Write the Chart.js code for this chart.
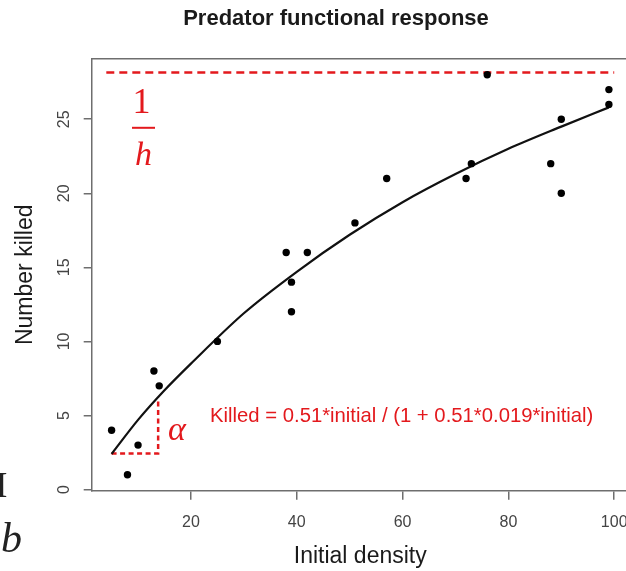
<!DOCTYPE html>
<html><head><meta charset="utf-8">
<script src="https://cdn.jsdelivr.net/npm/chart.js@4.4.1/dist/chart.umd.min.js"></script>
<style>
html,body{margin:0;padding:0;overflow:hidden;background:#fff;width:626px;height:571px}
#wrap{position:absolute;left:0;top:0;width:660px;height:571px}
</style>
</head><body><div id="wrap"><canvas id="c" width="660" height="571"></canvas></div>
<script>
// ---- data ----
const initialDensity = [5, 8, 10, 13, 14, 25, 38, 39, 39, 42, 51, 57, 72, 73, 76, 88, 90, 90, 99, 99];
const numberKilled   = [4, 1, 3, 8, 7, 10, 16, 14, 12, 16, 18, 21, 21, 22, 28, 22, 20, 25, 27, 26];
const fitDensity = [5, 10, 15, 20, 30, 40, 50, 60, 70, 80, 90, 99];
const fitKilled  = [2.4, 4.7, 6.7, 8.5, 11.9, 14.7, 17.2, 19.4, 21.3, 23.0, 24.5, 25.8];
const asymptoteDensity = [4, 100];
const asymptoteKilled  = [28.15, 28.15];
const slopeDensity = [5, 13.8, 13.8];
const slopeKilled  = [2.44, 2.44, 6.2];
const xTicks = [20, 40, 60, 80, 100];
const yTicks = [0, 5, 10, 15, 20, 25];
const xRange = [1.24, 102.76];
const yRange = [-0.08, 29.08];
const titleText = 'Predator functional response';
const xTitle = 'Initial density';
const yTitle = 'Number killed';
const equationText = 'Killed = 0.51*initial / (1 + 0.51*0.019*initial)';

const toPts = (xs, ys) => xs.map((x, i) => ({x: x, y: ys[i]}));
const RED = '#e3191d';
const AXIS = '#6e6e6e';
const SANS = "'Liberation Sans', Arial, sans-serif";
const SERIF = "'Liberation Serif', 'Times New Roman', serif";

Chart.defaults.font.family = SANS;

const annotate = {
  id: 'annotate',
  afterDraw(chart) {
    const {ctx, chartArea: a} = chart;
    ctx.save();
    ctx.strokeStyle = AXIS; ctx.lineWidth = 1.5;
    ctx.beginPath();
    ctx.moveTo(a.left, a.top); ctx.lineTo(a.right, a.top); ctx.lineTo(a.right, a.bottom);
    ctx.stroke();

    ctx.fillStyle = '#1a1a1a';
    ctx.font = 'bold 22px ' + SANS;
    ctx.textAlign = 'center'; ctx.textBaseline = 'middle';
    ctx.fillText(titleText, 336, 19);

    ctx.fillStyle = RED; ctx.textBaseline = 'alphabetic';
    ctx.font = '36px ' + SERIF;
    ctx.fillText('1', 141.5, 113);
    ctx.fillRect(132, 126.8, 23, 2);
    ctx.font = 'italic 34px ' + SERIF;
    ctx.fillText('h', 143.5, 165);
    ctx.font = 'italic 34px ' + SERIF;
    ctx.fillText('\u03b1', 177, 440);
    ctx.textAlign = 'left';
    ctx.font = '20.3px ' + SANS;
    ctx.fillText(equationText, 210, 422);

    ctx.fillStyle = '#222';
    ctx.textAlign = 'right';
    ctx.font = '36px ' + SERIF;
    ctx.fillText('I', 7.5, 497);
    ctx.textAlign = 'left';
    ctx.font = 'italic 42px ' + SERIF;
    ctx.fillText('b', 1, 552);
    ctx.restore();
  }
};

new Chart(document.getElementById('c'), {
  type: 'scatter',
  data: {
    datasets: [
      {data: toPts(initialDensity, numberKilled), backgroundColor: '#000', borderWidth: 0, pointRadius: 3.7},
      {data: toPts(fitDensity, fitKilled), showLine: true, borderColor: '#111', borderWidth: 2.2,
       pointRadius: 0, cubicInterpolationMode: 'monotone', fill: false},
      {data: toPts(asymptoteDensity, asymptoteKilled), showLine: true, borderColor: RED, borderWidth: 2.5,
       borderDash: [8, 5], pointRadius: 0, fill: false},
      {data: toPts(slopeDensity, slopeKilled), showLine: true, borderColor: RED, borderWidth: 2.5,
       borderDash: [5, 3.5], pointRadius: 0, fill: false}
    ]
  },
  options: {
    responsive: false, animation: false, devicePixelRatio: 1,
    layout: {padding: {top: 58.8, right: 31.2, bottom: 0, left: 0}},
    plugins: {legend: {display: false}, tooltip: {enabled: false}, title: {display: false}},
    scales: {
      x: {
        type: 'linear', min: xRange[0], max: xRange[1], bounds: 'data',
        afterBuildTicks: s => { s.ticks = xTicks.map(v => ({value: v})); },
        afterFit: s => { s.height = 80.3; },
        border: {display: true, color: AXIS, width: 1.5},
        grid: {drawOnChartArea: false, drawTicks: true, tickLength: 9, color: AXIS, lineWidth: 1.5},
        ticks: {color: '#444', font: {size: 16}, padding: 13, maxRotation: 0, autoSkip: false},
        title: {display: true, text: xTitle, color: '#1a1a1a', font: {size: 23, lineHeight: 1.2}, padding: {top: 0, bottom: 1}}
      },
      y: {
        type: 'linear', min: yRange[0], max: yRange[1], bounds: 'data',
        afterBuildTicks: s => { s.ticks = yTicks.map(v => ({value: v})); },
        afterFit: s => { s.width = 91.7; },
        border: {display: true, color: AXIS, width: 1.5},
        grid: {drawOnChartArea: false, drawTicks: true, tickLength: 8, color: AXIS, lineWidth: 1.5},
        ticks: {color: '#444', font: {size: 16}, padding: 10.6, minRotation: 90, maxRotation: 90, crossAlign: 'center', autoSkip: false},
        title: {display: true, text: yTitle, color: '#1a1a1a', font: {size: 23, lineHeight: 1.2}, padding: {top: 12, bottom: 0}}
      }
    }
  },
  plugins: [annotate]
});
</script>
</body></html>
